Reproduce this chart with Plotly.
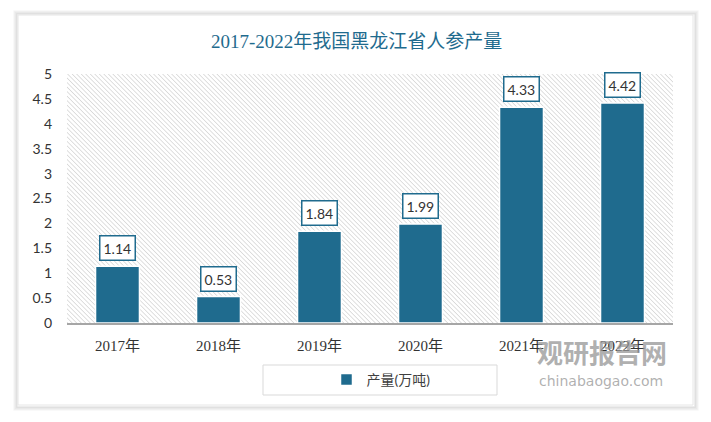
import base64
import plotly.graph_objects as go

categories = ["2017年", "2018年", "2019年", "2020年", "2021年", "2022年"]
values = [1.14, 0.53, 1.84, 1.99, 4.33, 4.42]
value_labels = ["1.14", "0.53", "1.84", "1.99", "4.33", "4.42"]
series_name = "产量(万吨)"
title_text = "2017-2022年我国黑龙江省人参产量"
y_ticks = [0, 0.5, 1, 1.5, 2, 2.5, 3, 3.5, 4, 4.5, 5]
y_tick_labels = ["0", "0.5", "1", "1.5", "2", "2.5", "3", "3.5", "4", "4.5", "5"]

BAR = "#1f6b8e"
SERIF = "Liberation Serif, Noto Sans CJK SC, serif"
SANS = "Lato, Noto Sans CJK SC, sans-serif"

svg = (
    "<svg xmlns='http://www.w3.org/2000/svg' width='606' height='249'>"
    "<defs><pattern id='p' width='3.2' height='3.2' patternUnits='userSpaceOnUse' "
    "patternTransform='rotate(-45)'>"
    "<rect width='3.2' height='3.2' fill='#ffffff'/>"
    "<line x1='0' y1='0' x2='0' y2='3.2' stroke='#cccccc' stroke-width='1.2'/>"
    "</pattern></defs><rect width='100%' height='100%' fill='url(#p)'/></svg>"
)
hatch_src = "data:image/svg+xml;base64," + base64.b64encode(svg.encode()).decode()

# page has an 8px body margin: figure coords = reference coords - 8
PX0, PY0, PW, PH = 67, 323, 606, 249  # plot area in reference pixels (left, bottom, w, h)


def px(x):
    return (x - PX0) / PW


def py(y):
    return (PY0 - y) / PH


fig = go.Figure()
fig.add_trace(go.Bar(
    x=categories, y=values, name=series_name,
    marker=dict(color=BAR, line=dict(color="white", width=1.5)),
    showlegend=True,
))

for c, v, t in zip(categories, values, value_labels):
    fig.add_annotation(
        x=c, y=v, text=t, showarrow=False, yanchor="bottom", yshift=5,
        font=dict(family=SANS, size=14, color="#333333"),
        bgcolor="white", bordercolor=BAR, borderwidth=1.5, borderpad=3,
    )

# title
fig.add_annotation(
    x=px(356), xref="paper", y=py(42), yref="paper", text=title_text, showarrow=False,
    xanchor="center", yanchor="middle",
    font=dict(family=SERIF, size=19, color=BAR),
)

# watermark
fig.add_annotation(
    x=px(602), xref="paper", y=py(351), yref="paper", xanchor="center", yanchor="middle",
    text="<b>观研报告网</b>", showarrow=False,
    font=dict(family="Noto Sans CJK SC", size=26, color="rgba(150,150,150,0.75)"),
)
fig.add_annotation(
    x=px(601), xref="paper", y=py(381), yref="paper", xanchor="center", yanchor="middle",
    text="chinabaogao.com", showarrow=False,
    font=dict(family="DejaVu Sans", size=14, color="rgba(150,150,150,0.75)"),
)

shapes = []
# card shadow
for i, op in enumerate([0.10, 0.07, 0.05, 0.03]):
    d = i + 1
    shapes.append(dict(
        type="rect", xref="paper", yref="paper", layer="below",
        x0=px(18 - d), x1=px(693 + d + 1),
        y0=py(405 + d + 1), y1=py(15 - d),
        line=dict(color=f"rgba(0,0,0,{op})", width=1.5), fillcolor="rgba(0,0,0,0)",
    ))
shapes.append(dict(
    type="rect", xref="paper", yref="paper", layer="below",
    x0=px(18), x1=px(693), y0=py(405), y1=py(15),
    line=dict(color="#e6e6e6", width=1), fillcolor="rgba(0,0,0,0)",
))
# legend box
shapes.append(dict(
    type="rect", xref="paper", yref="paper",
    x0=px(263), x1=px(497), y0=py(395), y1=py(365),
    line=dict(color="#d9d9d9", width=1), fillcolor="rgba(0,0,0,0)",
))

fig.update_layout(
    width=703, height=414,
    margin=dict(l=PX0 - 8, r=711 - (PX0 + PW), t=(PY0 - PH) - 8, b=422 - PY0),
    paper_bgcolor="white", plot_bgcolor="rgba(0,0,0,0)",
    bargap=0.565,
    shapes=shapes,
    images=[dict(source=hatch_src, xref="paper", yref="paper", x=0, y=1,
                 sizex=1, sizey=1, sizing="stretch", xanchor="left", yanchor="top",
                 layer="below")],
    legend=dict(
        orientation="h", x=px(381), xanchor="center",
        y=py(380), yanchor="middle",
        font=dict(family=SANS, size=14, color="#404040"),
        bgcolor="rgba(0,0,0,0)", itemwidth=30,
    ),
    xaxis=dict(
        showline=True, linecolor="#a6a6a6", linewidth=2, ticks="",
        showgrid=False, zeroline=False,
        tickfont=dict(family=SERIF, size=15, color="#333333"),
        ticklabelstandoff=8,
    ),
    yaxis=dict(
        range=[0, 5], tickvals=y_ticks, ticktext=y_tick_labels,
        showgrid=False, zeroline=False, showline=False, ticks="",
        tickfont=dict(family=SANS, size=14, color="#333333"),
        ticklabelstandoff=14,
    ),
)

fig.write_html("out.html")
